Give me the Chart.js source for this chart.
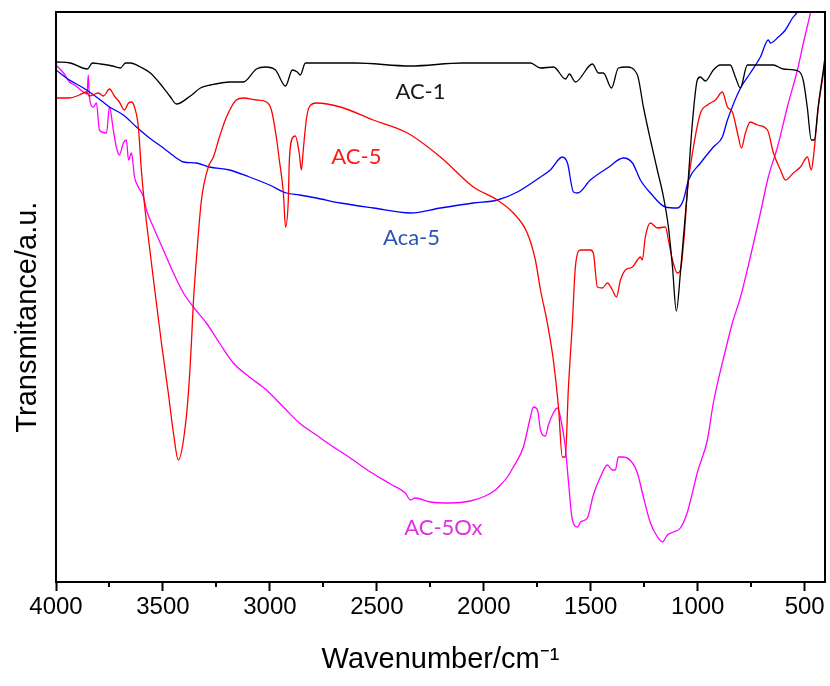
<!DOCTYPE html>
<html>
<head>
<meta charset="utf-8">
<script src="https://cdn.jsdelivr.net/npm/chart.js@4.4.1/dist/chart.umd.min.js"></script>
<style>
  html, body { margin: 0; padding: 0; background: #fff; }
  #wrap { width: 830px; height: 686px; }
</style>
</head>
<body>
<div id="wrap"><canvas id="ftir"></canvas></div>
<script>
// FTIR spectra, transmittance in arbitrary units

// axis ticks
const xTickValues = [4000, 3500, 3000, 2500, 2000, 1500, 1000, 500];
const xMinorTicks = [3750, 3250, 2750, 2250, 1750, 1250, 750];

// AC-1 (black)
const ac1Wave = [4000,3933,3853,3830,3792,3736,3699,3675,3652,3605,3559,3512,3465,3437,3372,3325,3278,3185,3124,3063,3021,2974,2927,2895,2872,2858,2834,2600,2343,2100,1782,1735,1674,1618,1600,1572,1492,1464,1441,1403,1371,1333,1282,1254,1221,1189,1160,1137,1118,1100,1081,1048,1025,1002,988,964,927,895,848,824,801,768,647,600,530,507,488,469,455,437,413,405];
const ac1T = [520,519,513,519,518,516,514,519,519,515,509,498,485,478,486,494,497,500,500,513,515,512,496,512,510,507,519,519,516,519,519,514,515,503,508,500,518,509,509,494,514,515,507,475,442,412,385,355,315,271,309,392,459,502,505,501,512,517,517,505,494,517,517,513,511,502,475,442,442,475,512,525];

// AC-5 (red)
const ac5Wave = [4000,3937,3891,3858,3844,3802,3778,3750,3727,3704,3680,3661,3647,3633,3615,3601,3587,3563,3540,3507,3475,3451,3428,3404,3381,3367,3358,3344,3320,3288,3264,3236,3203,3157,3124,3063,3016,2993,2970,2956,2937,2927,2914,2909,2891,2881,2863,2853,2844,2830,2816,2783,2671,2517,2357,2203,2049,1937,1862,1797,1759,1735,1703,1675,1651,1633,1619,1605,1586,1572,1548,1502,1488,1469,1446,1422,1399,1380,1361,1338,1305,1282,1268,1259,1245,1221,1188,1151,1137,1118,1095,1081,1062,1048,1020,987,955,917,885,861,838,814,796,777,754,721,674,646,613,590,553,520,487,469,459,436,412,405];
const ac5T = [484,484,487,490,486,489,486,493,486,480,472,479,480,475,455,412,379,335,295,239,189,149,122,142,189,239,279,322,382,415,425,445,465,482,484,482,480,472,445,422,389,355,382,422,445,446,429,412,432,462,475,479,475,462,449,425,395,382,369,349,322,292,259,222,175,125,125,192,259,315,332,332,329,295,294,299,292,285,302,312,315,322,325,322,345,359,354,355,342,322,309,312,349,392,435,469,477,482,490,475,470,449,434,449,460,457,452,429,412,402,409,415,425,412,425,475,509,520];

// Aca-5 (blue)
const aca5Wave = [4000,3937,3872,3811,3750,3685,3624,3563,3498,3437,3404,3344,3283,3189,3096,3002,2923,2862,2783,2670,2516,2343,2203,2049,1936,1843,1735,1689,1633,1609,1581,1562,1502,1422,1347,1305,1268,1221,1151,1095,1067,1043,987,927,885,861,800,754,707,670,660,623,590,557,534,500];
const aca5T = [512,502,494,485,475,467,455,444,434,424,420,419,415,412,405,397,389,387,384,379,374,369,374,379,382,390,405,412,425,419,390,389,402,414,424,419,402,389,375,374,382,402,419,435,445,462,494,509,525,542,539,545,552,564,570,585];

// AC-5Ox (magenta)
const ac5oxWave = [4000,3965,3937,3914,3895,3872,3855,3849,3844,3825,3811,3797,3764,3750,3732,3718,3704,3685,3671,3661,3647,3633,3615,3591,3577,3545,3498,3451,3404,3358,3297,3236,3171,3096,3016,2937,2862,2783,2717,2624,2530,2437,2367,2343,2320,2250,2156,2063,1993,1946,1922,1890,1862,1815,1782,1768,1749,1735,1712,1698,1675,1656,1642,1619,1605,1586,1562,1548,1516,1488,1455,1422,1399,1385,1371,1347,1305,1282,1254,1221,1188,1165,1142,1114,1081,1048,1001,955,927,870,838,800,754,707,670,627,581,534,506,473,450];
const ac5oxT = [517,509,500,497,494,490,488,507,485,475,479,452,449,475,452,435,427,439,442,422,429,405,395,385,372,355,332,309,289,275,259,239,219,205,192,175,159,147,137,124,110,98,89,82,84,80,79,81,86,92,97,105,115,135,165,175,172,152,146,157,169,174,165,135,102,62,55,60,64,87,105,117,112,112,125,125,119,109,85,59,45,40,47,50,54,70,110,142,179,232,259,285,325,369,405,435,475,512,539,569,590];

const fontSans = '"Liberation Sans", Arial, sans-serif';

function toPoints(waves, vals) {
    return waves.map((w, i) => ({ x: w, y: vals[i] }));
}

// Series names written next to each curve (in data coordinates)
const seriesLabels = [
    { text: 'AC-1',   x: 2296, y: 490, color: '#1a1a1a' },
    { text: 'AC-5',   x: 2596, y: 425, color: '#ff1a1a' },
    { text: 'Aca-5',  x: 2338, y: 344, color: '#2a55b5' },
    { text: 'AC-5Ox', x: 2189, y: 54,  color: '#e030e0' }
];

// Box around the plot, minor ticks and curve labels
const framePlugin = {
    id: 'frame',
    afterDatasetsDraw(chart) {
        const { ctx, chartArea: a, scales } = chart;
        ctx.save();
        ctx.strokeStyle = '#000';
        ctx.lineWidth = 2;
        ctx.strokeRect(a.left, a.top, a.right - a.left, a.bottom - a.top);

        ctx.beginPath();
        xMinorTicks.forEach(v => {
            const px = Math.round(scales.x.getPixelForValue(v));
            ctx.moveTo(px, a.bottom);
            ctx.lineTo(px, a.bottom + 5);
        });
        ctx.stroke();

        ctx.font = '22px Lato, "Open Sans", sans-serif';
        ctx.textAlign = 'center';
        ctx.textBaseline = 'middle';
        seriesLabels.forEach(l => {
            ctx.fillStyle = l.color;
            ctx.fillText(l.text, scales.x.getPixelForValue(l.x), scales.y.getPixelForValue(l.y));
        });
        ctx.restore();
    }
};

function lineSet(label, waves, vals, color) {
    return {
        label: label,
        data: toPoints(waves, vals),
        borderColor: color,
        backgroundColor: color,
        borderWidth: 1.3,
        pointRadius: 0,
        cubicInterpolationMode: 'monotone'
    };
}

new Chart(document.getElementById('ftir'), {
    type: 'line',
    data: {
        datasets: [
            lineSet('AC-1', ac1Wave, ac1T, '#000000'),
            lineSet('AC-5', ac5Wave, ac5T, '#ff0000'),
            lineSet('Aca-5', aca5Wave, aca5T, '#0000ff'),
            lineSet('AC-5Ox', ac5oxWave, ac5oxT, '#ff00ff')
        ]
    },
    options: {
        responsive: true,
        maintainAspectRatio: false,
        animation: false,
        devicePixelRatio: 1,
        layout: { padding: { left: 7, right: 5, top: 12, bottom: 5 } },
        plugins: {
            legend: { display: false },
            tooltip: { enabled: false }
        },
        scales: {
            x: {
                type: 'linear',
                reverse: true,
                min: 405,
                max: 4000,
                afterBuildTicks: s => { s.ticks = xTickValues.map(v => ({ value: v })); },
                afterFit: s => { s.height = 99; },
                grid: {
                    display: true,
                    drawOnChartArea: false,
                    drawTicks: true,
                    tickLength: 9,
                    tickWidth: 2,
                    tickColor: '#000'
                },
                border: { display: false },
                ticks: {
                    color: '#000',
                    font: { family: fontSans, size: 24 },
                    padding: 2,
                    maxRotation: 0,
                    autoSkip: false,
                    callback: v => String(v)
                },
                title: {
                    display: true,
                    text: 'Wavenumber/cm\u207B\u00B9',
                    color: '#000',
                    font: { family: fontSans, size: 29 },
                    padding: { top: 0, bottom: 4 }
                }
            },
            y: {
                min: 0,
                max: 570,
                afterFit: s => { s.width = 49; },
                ticks: { display: false },
                grid: { display: false },
                border: { display: false },
                title: {
                    display: true,
                    // trailing spaces nudge the centred title down a little
                    text: 'Transmitance/a.u.' + '\u00A0'.repeat(5),
                    color: '#000',
                    font: { family: fontSans, size: 29 },
                    padding: { top: 4, bottom: 0 }
                }
            }
        }
    },
    plugins: [framePlugin]
});
</script>
</body>
</html>
